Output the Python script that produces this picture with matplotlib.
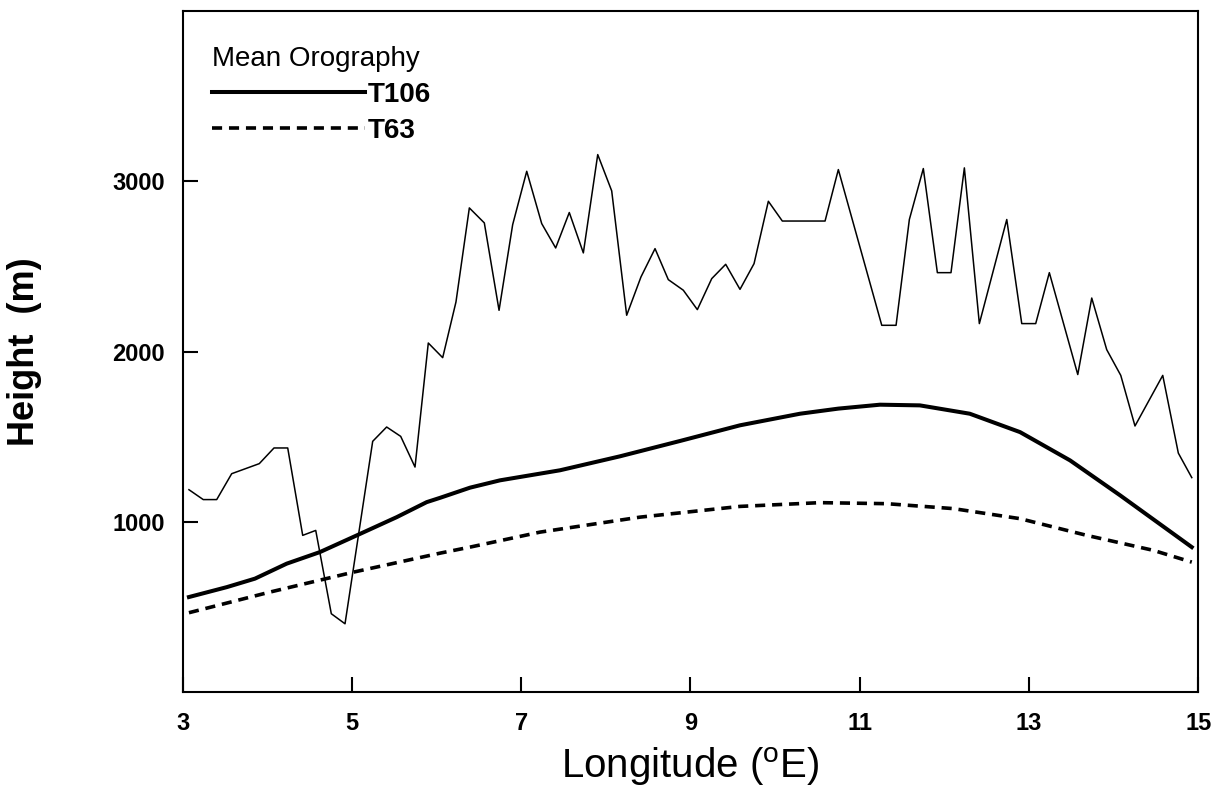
import numpy as np
import matplotlib
matplotlib.use('Agg')
import matplotlib.pyplot as plt
from matplotlib.lines import Line2D

plt.rcParams['font.family'] = ['Liberation Sans', 'DejaVu Sans']
plt.rcParams['mathtext.fontset'] = 'custom'
plt.rcParams['mathtext.rm'] = 'Liberation Sans'

###  real (envelope) orography, thin line
lon_raw = [3.074, 3.243, 3.402, 3.579, 3.905, 4.079, 4.241, 4.418, 4.572, 4.756,
           4.918, 5.245, 5.410, 5.576, 5.745, 5.902, 6.072, 6.229, 6.387, 6.564,
           6.738, 6.899, 7.065, 7.242, 7.407, 7.568, 7.734, 7.904, 8.069, 8.246,
           8.415, 8.581, 8.738, 8.915, 9.081, 9.251, 9.416, 9.585, 9.751, 9.920,
           10.085, 10.590, 10.747, 11.260, 11.429, 11.586, 11.751, 11.917, 12.078, 12.236,
           12.413, 12.737, 12.914, 13.079, 13.240, 13.576, 13.741, 13.918, 14.084, 14.252,
           14.580, 14.764, 14.923]
h_raw = [1190, 1132, 1132, 1284, 1343, 1435, 1435, 922, 951, 462,
         403, 1474, 1558, 1503, 1323, 2051, 1965, 2292, 2844, 2756,
         2243, 2746, 3059, 2752, 2609, 2817, 2580, 3157, 2944, 2214,
         2439, 2605, 2423, 2361, 2247, 2429, 2513, 2366, 2517, 2883,
         2767, 2767, 3069, 2155, 2155, 2776, 3075, 2464, 2464, 3079,
         2165, 2776, 2165, 2165, 2464, 1866, 2315, 2012, 1861, 1564,
         1861, 1405, 1261]

###  mean orography T106
lon_t106 = [3.074, 3.52, 3.854, 4.229, 4.622, 5.075, 5.529, 5.883, 6.045, 6.395,
            6.749, 7.458, 8.167, 8.876, 9.585, 10.294, 10.747, 11.239, 11.71, 12.30,
            12.894, 13.485, 14.076, 14.923]
h_t106 = [560, 618, 668, 756, 824, 926, 1029, 1117, 1143, 1202,
          1245, 1304, 1386, 1476, 1568, 1636, 1666, 1689, 1685, 1636,
          1528, 1362, 1157, 853]

###  mean orography T63
lon_t63 = [3.074, 4.03, 5.016, 6.045, 6.395, 7.222, 8.404, 9.585, 10.53, 11.318,
           12.106, 12.894, 13.682, 14.469, 14.923]
h_t63 = [468, 589, 706, 818, 853, 941, 1029, 1092, 1114, 1108,
         1079, 1020, 922, 834, 765]

xticks = [3, 5, 7, 9, 11, 13, 15]
yticks = [1000, 2000, 3000]

fig = plt.figure(figsize=(12.22, 7.95), dpi=100)
ax = fig.add_axes([0.1495, 0.129, 0.8311, 0.8572])

ax.plot(lon_raw, h_raw, color='black', lw=1.1)
ax.plot(lon_t106, h_t106, color='black', lw=2.9)
ax.plot(lon_t63, h_t63, color='black', lw=2.6, dashes=(2.8, 1.9))

ax.set_xlim(3, 15)
ax.set_ylim(0, 4000)
ax.set_xticks(xticks)
ax.set_yticks(yticks)
ax.tick_params(direction='in', length=11, width=1.5, labelsize=17, pad=14)
ax.tick_params(axis='y', pad=13)
for lab in ax.get_xticklabels() + ax.get_yticklabels():
    lab.set_fontweight('bold')
for sp in ax.spines.values():
    sp.set_linewidth(1.5)

ax.set_ylabel('Height  (m)', fontsize=26, fontweight='bold')
ax.yaxis.set_label_coords(-0.1385, 0.5)
ax.set_xlabel(r'Longitude ($^{\mathrm{o}}$E)', fontsize=29)
ax.xaxis.set_label_coords(0.5, -0.078)

###  legend with the line running straight into the label
handles = [Line2D([], [], color='black', lw=2.9),
           Line2D([], [], color='black', lw=2.6, dashes=(2.8, 1.9))]
leg = ax.legend(handles, ['T106', 'T63'], title='Mean Orography',
                loc='upper left', bbox_to_anchor=(0.029, 0.948), frameon=False,
                borderpad=0, borderaxespad=0, handlelength=5.5, handletextpad=0.1,
                labelspacing=0.35, alignment='left',
                prop={'size': 20, 'weight': 'bold'}, title_fontsize=20)

fig.savefig('out.png', dpi=100)
